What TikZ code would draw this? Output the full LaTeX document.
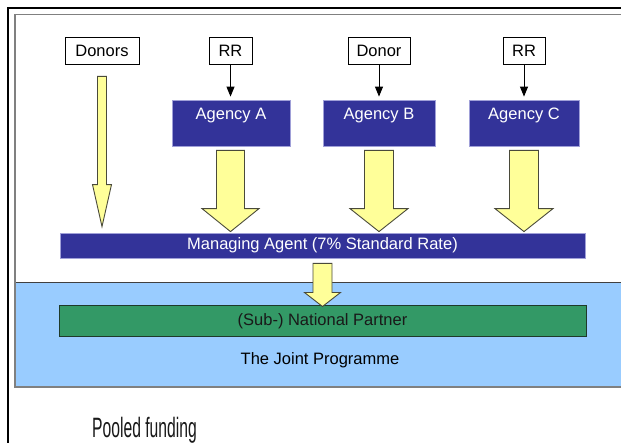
\documentclass[tikz,border=0pt]{standalone}
\usepackage{fontspec}
\setmainfont{Liberation Sans}
\newfontfamily\narrowfont[FakeStretch=0.56]{Liberation Sans}
\usetikzlibrary{arrows.meta,calc}

\definecolor{agencyblue}{HTML}{333399}
\definecolor{agencyedge}{HTML}{A0A0D8}
\definecolor{arrowyellow}{HTML}{FFFF99}
\definecolor{arrowedge}{HTML}{4A4A3A}
\definecolor{bandblue}{HTML}{99CCFF}
\definecolor{partnergreen}{HTML}{339966}
\definecolor{partneredge}{HTML}{1E3A2A}
\definecolor{framegray}{HTML}{808080}

% block arrow from #1 (middle of the tail) to #2 (tip);
% #3 half shaft width, #4 half head width, #5 head length
\newcommand\blockarrow[5]{%
  \draw[fundflow] ($(#1)+(-#3,0)$) -- ($(#1)+(#3,0)$) -- ($(#2)+(#3,-#5)$)
    -- ($(#2)+(#4,-#5)$) -- (#2) -- ($(#2)+(-#4,-#5)$) -- ($(#2)+(-#3,-#5)$) -- cycle;}

\begin{document}
\begin{tikzpicture}[x=1pt,y=-1pt,
  font=\fontsize{16.5}{18}\selectfont,
  srcbox/.style={draw=black, line width=0.8pt, fill=white, minimum height=27, inner sep=0pt},
  agency/.style={draw=agencyedge, line width=0.8pt, fill=agencyblue, text=white,
    inner xsep=0pt, inner ysep=6pt, text height=14pt, text depth=20pt},
  bar/.style={draw=agencyedge, line width=0.8pt, fill=agencyblue, text=white, inner sep=0pt},
  partner/.style={draw=partneredge, line width=1pt, fill=partnergreen, text=black!90, inner sep=0pt},
  feed/.style={draw=black, line width=0.9pt, -{Triangle[width=8pt,length=10pt]}, shorten >=3pt},
  fundflow/.style={draw=arrowedge, line width=0.9pt, fill=arrowyellow, line join=miter},
]
\clip (0,0) rectangle (621,443);
\fill[white] (0,0) rectangle (621,443);

% the joint programme band
\fill[bandblue] (15,282) rectangle (640,387);
\draw[black!75, line width=0.9pt] (15,282) -- (640,282);

% frames
\draw[black, line width=2pt] (640,8) -- (8,8) -- (8,460);
\draw[framegray, line width=1.6pt] (640,14.5) -- (15,14.5) -- (15,387) -- (640,387);

% sources of funds
\node[srcbox, minimum width=74] (donors) at (102,50.5) {Donors};
\node[srcbox, minimum width=43] (rrA) at (230.5,50.5) {RR};
\node[srcbox, minimum width=62] (donorB) at (379,50.5) {Donor};
\node[srcbox, minimum width=42] (rrC) at (524,50.5) {RR};

% participating agencies
\node[agency, minimum width=118] (agA) at (231,123) {Agency A};
\node[agency, minimum width=112] (agB) at (379,123) {Agency B};
\node[agency, minimum width=110] (agC) at (524,123) {Agency C};

% managing agent and national partner
\node[bar, minimum width=525, minimum height=25] (mgr) at (322.5,245.5)
  {Managing Agent (7\% Standard Rate)};
\node[partner, minimum width=527, minimum height=31] (partner) at (322.5,321.5)
  {(Sub-) National Partner};
\node (jp) at (320,360) {The Joint Programme};

% regular resources and donor funds into agencies
\draw[feed] (rrA.south) -- (rrA.south |- agA.north);
\draw[feed] (donorB.south) -- (donorB.south |- agB.north);
\draw[feed] (rrC.south) -- (rrC.south |- agC.north);

% fund flows
\coordinate (dTop) at ($(donors.south)+(0,12)$);
\coordinate (dTip) at ($(donors.south |- mgr.north)+(0,-6)$);
\blockarrow{dTop}{dTip}{4.5}{9.5}{42}

\coordinate (aTop) at ($(agA.south)+(-0.5,4)$);
\coordinate (aTip) at ($(agA.south |- mgr.north)+(-0.5,-1)$);
\blockarrow{aTop}{aTip}{14}{28.5}{23}

\coordinate (bTop) at ($(agB.south)+(0,4)$);
\coordinate (bTip) at ($(agB.south |- mgr.north)+(0,-1)$);
\blockarrow{bTop}{bTip}{14.5}{29}{23}

\coordinate (cTop) at ($(agC.south)+(0,4)$);
\coordinate (cTip) at ($(agC.south |- mgr.north)+(0,-1)$);
\blockarrow{cTop}{cTip}{14.5}{29}{23}

\coordinate (mTop) at ($(mgr.south)+(0,5)$);
\coordinate (mTip) at ($(mgr.south |- partner.north)+(0,1)$);
\blockarrow{mTop}{mTip}{9.5}{18}{14}

% caption
\node[anchor=base west, inner sep=0pt, font=\narrowfont\fontsize{28}{30}\selectfont, text=black!90]
  (caption) at (92,437) {Pooled funding};
\end{tikzpicture}
\end{document}
